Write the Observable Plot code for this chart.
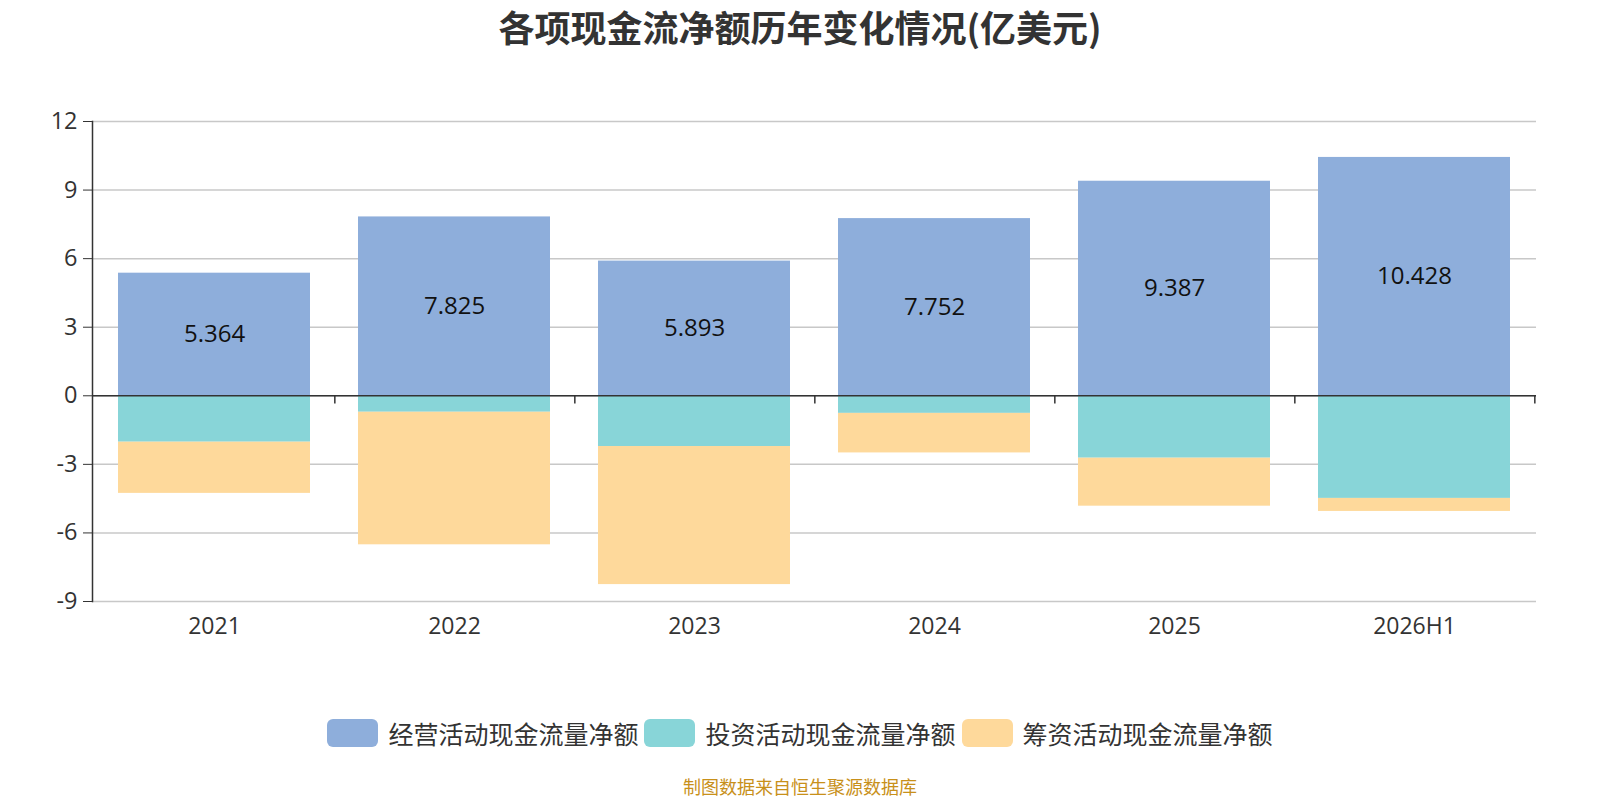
<!DOCTYPE html>
<html>
<head>
<meta charset="utf-8">
<script src="https://cdn.jsdelivr.net/npm/d3@7"></script>
<script src="https://cdn.jsdelivr.net/npm/@observablehq/plot@0.6"></script>
<style>
  body { margin: 0; background: #fff; font-family: "Open Sans", "Noto Sans CJK SC", sans-serif; }
  #wrap { width: 1600px; height: 800px; position: relative; overflow: hidden; }
  #title { position: absolute; left: 0; width: 1600px; top: 0px; text-align: center; font-family: "Noto Sans CJK SC", sans-serif; font-weight: bold; font-size: 36px; color: #333; line-height: 52px; }
  #chart { position: absolute; left: 0; top: 60px; }
  #legend { position: absolute; left: 0; width: 1600px; top: 716px; height: 34px; display: flex; justify-content: center; align-items: center; font-family: "Noto Sans CJK SC", sans-serif; font-size: 25px; color: #333; }
  .item { display: flex; align-items: center; margin: 0 3px; }
  .sw { width: 51px; height: 28px; border-radius: 6px; margin-right: 10px; }
  #footer { position: absolute; left: 0; width: 1600px; top: 775px; line-height: 22px; text-align: center; font-family: "Noto Sans CJK SC", sans-serif; font-size: 18px; color: #c8901a; }
</style>
</head>
<body>
<div id="wrap">
  <div id="title">各项现金流净额历年变化情况(亿美元)</div>
  <div id="chart"></div>
  <div id="legend"></div>
  <div id="footer">制图数据来自恒生聚源数据库</div>
</div>
<script>
const categories = ["2021", "2022", "2023", "2024", "2025", "2026H1"];
const seriesNames = ["经营活动现金流量净额", "投资活动现金流量净额", "筹资活动现金流量净额"];
const operating = [5.364, 7.825, 5.893, 7.752, 9.387, 10.428];
const investing = [-2.03, -0.72, -2.22, -0.77, -2.73, -4.49];
const financing = [-2.24, -5.80, -6.04, -1.73, -2.10, -0.57];
const yTicks = [-9, -6, -3, 0, 3, 6, 9, 12];
const colors = ["#8eaedb", "#88d5d8", "#fed99b"];

const seriesValues = [operating, investing, financing];
const data = [];
seriesValues.forEach((vals, s) => {
  categories.forEach((c, i) => data.push({ cat: c, series: seriesNames[s], value: vals[i] }));
});
const labels = categories.map((c, i) => ({ cat: c, value: operating[i] }));

const W = 1600, H = 600, mL = 92, mR = 64;
const step = (W - mL - mR) / categories.length;

const chart = Plot.plot({
  width: W,
  height: H,
  marginTop: 61,
  marginBottom: 59,
  marginLeft: mL,
  marginRight: mR,
  style: { fontFamily: "'Open Sans', 'Noto Sans CJK SC', sans-serif", color: "#333", background: "#fff" },
  x: { domain: categories, padding: 0, label: null },
  y: { domain: [-9, 12], label: null },
  color: { domain: seriesNames, range: colors },
  marks: [
    Plot.gridY(yTicks, { stroke: "#c8c8c8", strokeOpacity: 1, strokeWidth: 1.5 }),
    Plot.barY(data, { x: "cat", y: "value", fill: "series", insetLeft: 24, insetRight: 24, order: null }),
    Plot.ruleY([0], { stroke: "#333", strokeWidth: 1.5 }),
    Plot.ruleX(categories, { x: d => d, dx: step / 2, y1: 0, y2: -0.36, stroke: "#333", strokeWidth: 1.5 }),
    Plot.frame({ anchor: "left", stroke: "#333", strokeWidth: 1.5 }),
    Plot.axisY(yTicks, { tickSize: 9, tickPadding: 6, fontSize: 23.5, stroke: "#333", fill: "#333", tickFormat: d => String(d) }),
    Plot.axisX({ tickSize: 0, tickPadding: 16, fontSize: 23, fill: "#333" }),
    Plot.text(labels, { x: "cat", y: d => d.value / 2, text: d => d.value.toFixed(3), fontSize: 24, fill: "#111" })
  ]
});
document.getElementById("chart").appendChild(chart);

const legend = document.getElementById("legend");
seriesNames.forEach((n, i) => {
  const it = document.createElement("div");
  it.className = "item";
  it.innerHTML = `<div class="sw" style="background:${colors[i]}"></div><span>${n}</span>`;
  legend.appendChild(it);
});
</script>
</body>
</html>
